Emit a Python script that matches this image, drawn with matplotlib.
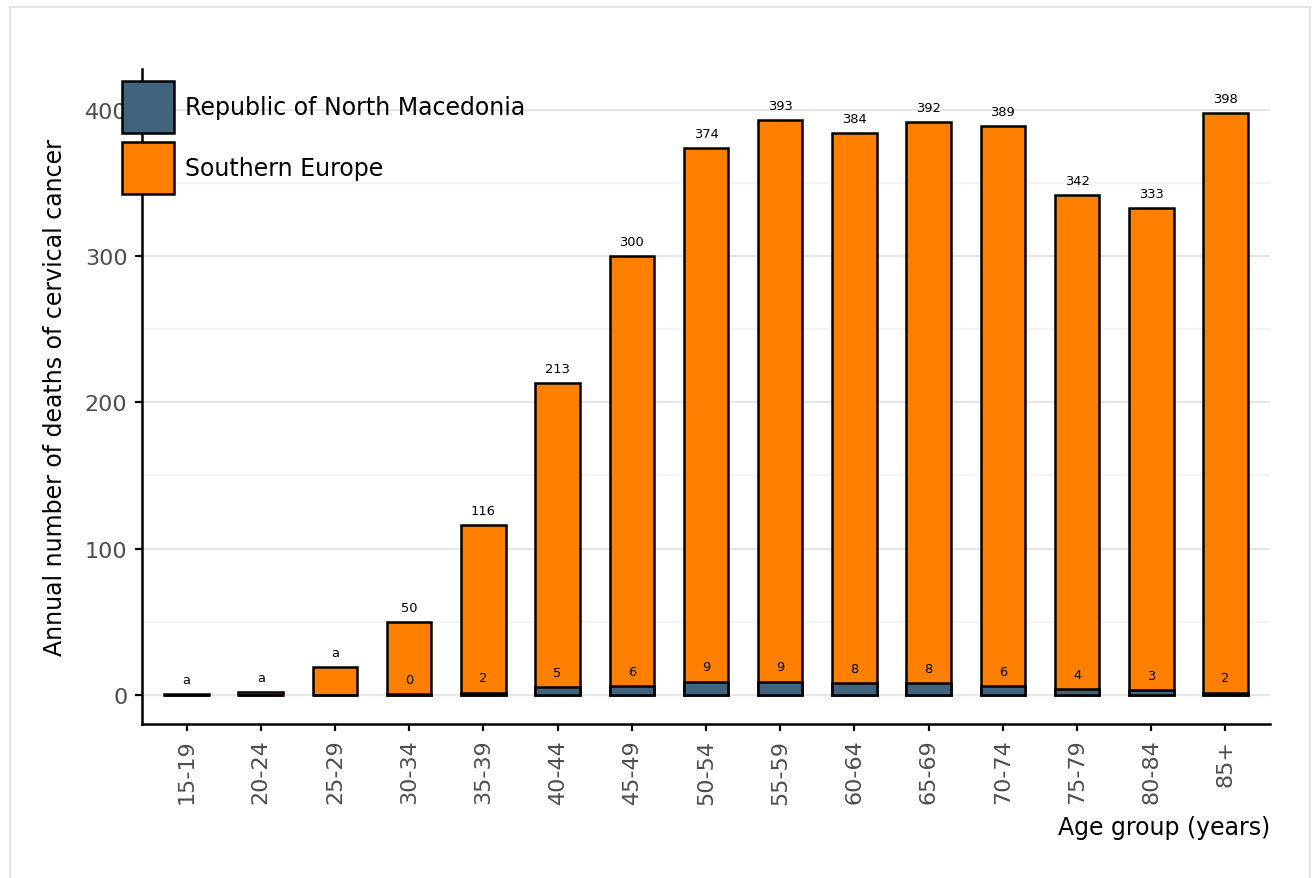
import numpy as np
import matplotlib
matplotlib.use("Agg")
import matplotlib.pyplot as plt
from matplotlib.patches import Patch
from matplotlib.lines import Line2D

age_groups = ["15-19", "20-24", "25-29", "30-34", "35-39", "40-44", "45-49", "50-54",
              "55-59", "60-64", "65-69", "70-74", "75-79", "80-84", "85+"]
southern_europe = [0.3, 1.6, 19, 50, 116, 213, 300, 374, 393, 384, 392, 389, 342, 333, 398]
north_macedonia = [0, 0, 0, 0.3, 1.5, 5, 6, 9, 9, 8, 8, 6, 4, 3, 1.5]
se_labels = ["a", "a", "a", "50", "116", "213", "300", "374", "393", "384", "392", "389", "342", "333", "398"]
nm_labels = ["", "", "", "0", "2", "5", "6", "9", "9", "8", "8", "6", "4", "3", "2"]

c_se = "#ff7f00"
c_nm = "#40637e"

fig = plt.figure(figsize=(13.12, 8.79), dpi=100)
ax = fig.add_axes([142/1312, 1-725/879, (1270-142)/1312, (725-70)/879])

x = np.arange(len(age_groups))
ax.bar(x, southern_europe, width=0.6, color=c_se, edgecolor="black", linewidth=1.8, zorder=3)
ax.bar(x, north_macedonia, width=0.6, color=c_nm, edgecolor="black", linewidth=1.8, zorder=4)

for i in range(len(x)):
    ax.text(x[i], southern_europe[i] + 10, se_labels[i], ha="center", va="center",
            fontsize=9.4, color="black", zorder=5)
    if nm_labels[i]:
        ax.text(x[i], north_macedonia[i] + 10, nm_labels[i], ha="center", va="center",
                fontsize=9.4, color="black", zorder=5)

ax.set_xlim(-0.6, 14.6)
ax.set_ylim(-20, 428)
ax.set_yticks([0, 100, 200, 300, 400])
ax.set_yticks([50, 150, 250, 350], minor=True)
ax.set_xticks(x)
ax.set_xticklabels(age_groups, rotation=90)
ax.grid(axis="y", which="major", color="#e6e6e6", linewidth=1.6, zorder=0)
ax.grid(axis="y", which="minor", color="#f4f4f4", linewidth=1.6, zorder=0)
ax.tick_params(axis="both", which="major", length=5, width=1.6, color="black",
               labelsize=16, labelcolor="#4d4d4d", pad=5.5)
ax.tick_params(axis="y", which="minor", length=0)
for s in ["top", "right"]:
    ax.spines[s].set_visible(False)
for s in ["left", "bottom"]:
    ax.spines[s].set_linewidth(1.8)

ax.set_xlabel("Age group (years)", fontsize=17, loc="right", labelpad=8)
ax.set_ylabel("Annual number of deaths of cervical cancer", fontsize=17, labelpad=13)

handles = [Patch(facecolor=c_nm, edgecolor="black", linewidth=1.8),
           Patch(facecolor=c_se, edgecolor="black", linewidth=1.8)]
fig.legend(handles, ["Republic of North Macedonia", "Southern Europe"],
           loc="upper left", bbox_to_anchor=(122/1312, 1-82/879), frameon=False,
           fontsize=17, handlelength=2.2, handleheight=3.0, labelspacing=0.38,
           handletextpad=0.45, borderpad=0, borderaxespad=0)

# light frame around the panel
fr = dict(color="#e0e0e0", linewidth=1.2, transform=fig.transFigure)
fig.add_artist(Line2D([10/1312, 10/1312], [0, 1-8/879], **fr))
fig.add_artist(Line2D([10/1312, 1310/1312], [1-8/879, 1-8/879], **fr))
fig.add_artist(Line2D([1310/1312, 1310/1312], [0, 1-8/879], **fr))

fig.savefig("out.png", dpi=100)
